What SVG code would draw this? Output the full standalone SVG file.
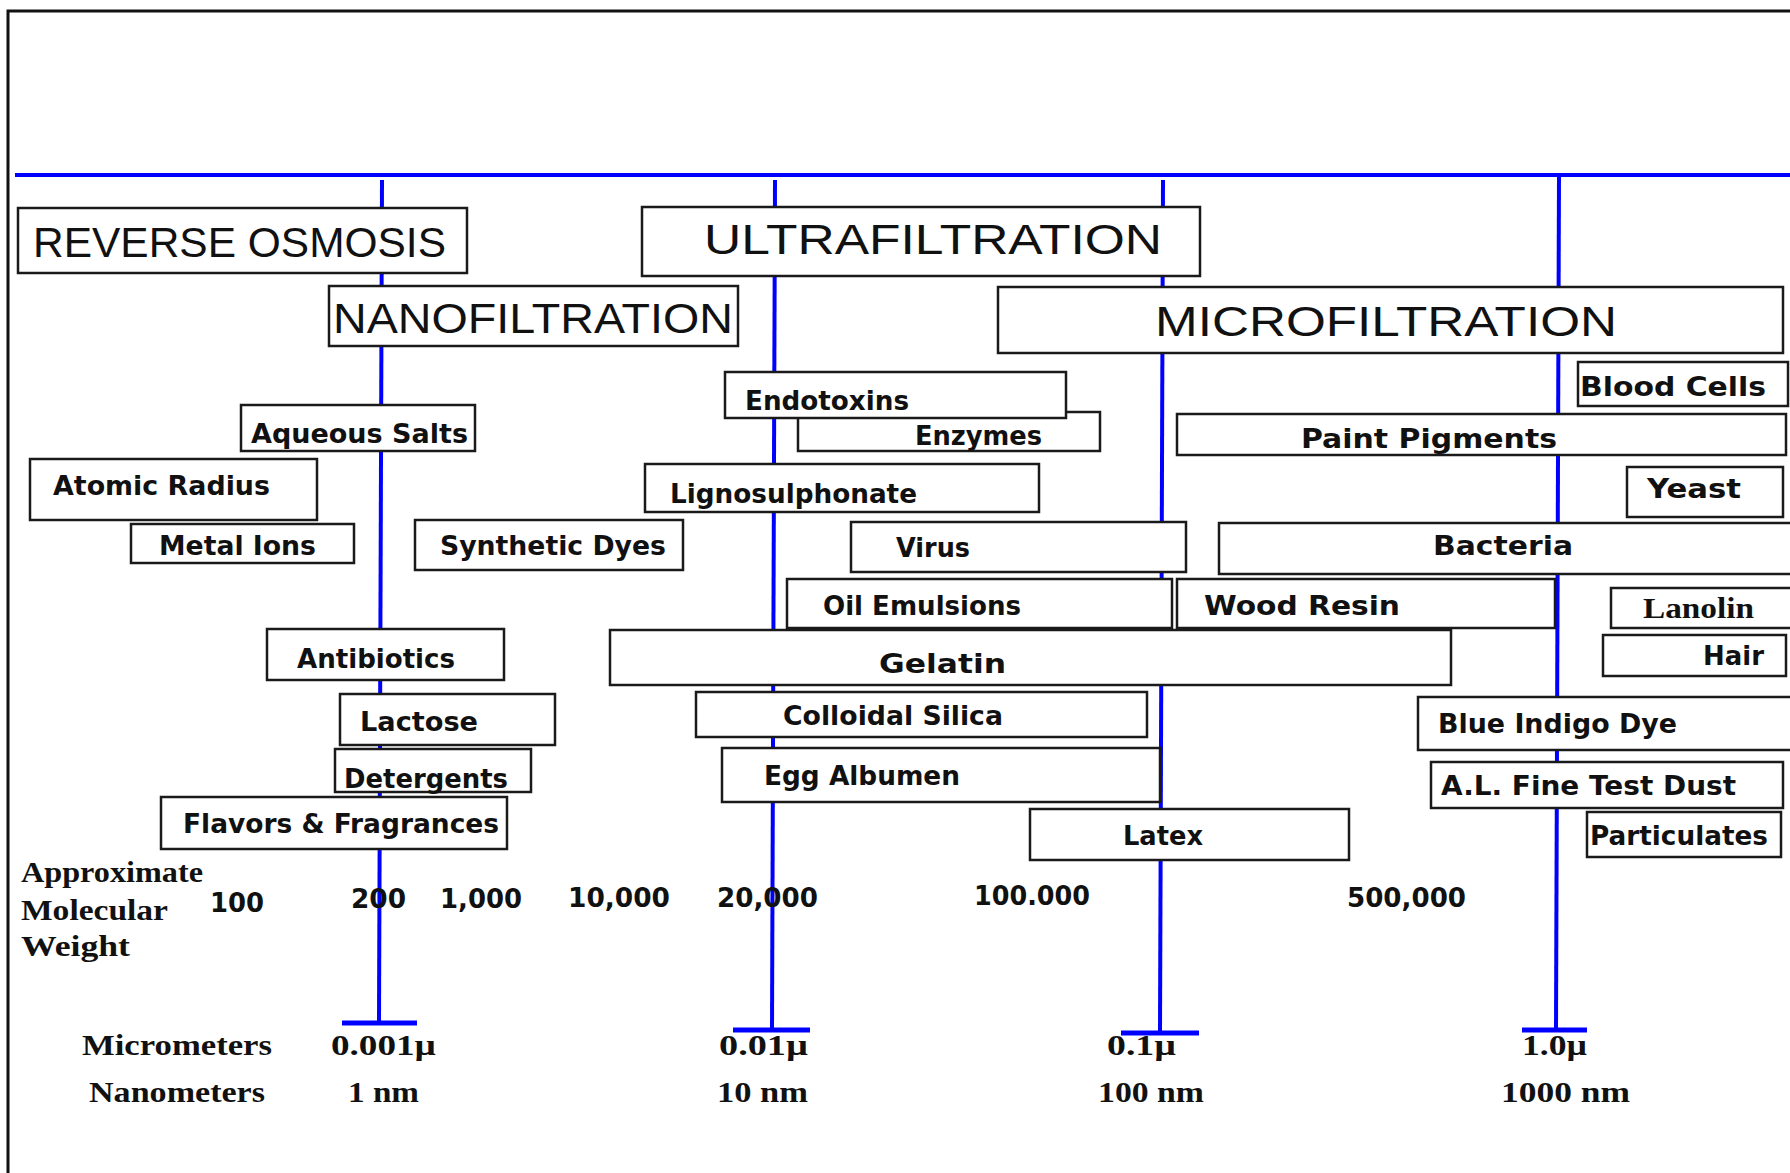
<svg xmlns="http://www.w3.org/2000/svg" width="1790" height="1173" viewBox="0 0 1790 1173">
<style>
.box{fill:#fff;stroke:#1a1a1a;stroke-width:2.5}
.title{font-family:"Liberation Sans",Arial,sans-serif;font-size:42px;fill:#111}
.lbl{font-family:"DejaVu Sans","Liberation Sans",sans-serif;font-weight:bold;font-size:26px;fill:#111}
.serif{font-family:"Liberation Serif","Times New Roman",serif;font-weight:bold;font-size:30px;fill:#111}
.axis{stroke:#0000ff;stroke-width:4;fill:none}
.cap{stroke:#0000ff;stroke-width:5;fill:none}
</style>
<rect x="0" y="0" width="1790" height="1173" fill="#fff"/>
<g id="frame">
<path d="M8 1173 V11 H1790" fill="none" stroke="#111" stroke-width="3"/>
</g>
<g id="connectors">
<line class="axis" x1="15" y1="175" x2="1790" y2="175" stroke-width="3"/>
<line class="axis" x1="382" y1="180" x2="379" y2="1023"/>
<line class="axis" x1="775" y1="180" x2="772" y2="1030"/>
<line class="axis" x1="1163" y1="180" x2="1160" y2="1033"/>
<line class="axis" x1="1559" y1="175" x2="1556" y2="1030"/>
<line class="cap" x1="342" y1="1023" x2="417" y2="1023"/>
<line class="cap" x1="733" y1="1030" x2="810" y2="1030"/>
<line class="cap" x1="1121" y1="1033" x2="1199" y2="1033"/>
<line class="cap" x1="1522" y1="1030" x2="1587" y2="1030"/>
</g>
<g id="reverse-osmosis"><rect class="box" x="18" y="208" width="449" height="65"/><text class="title" x="33" y="257" textLength="413" lengthAdjust="spacingAndGlyphs">REVERSE OSMOSIS</text></g>
<g id="nanofiltration"><rect class="box" x="329" y="286" width="409" height="60"/><text class="title" x="333" y="333" textLength="400" lengthAdjust="spacingAndGlyphs">NANOFILTRATION</text></g>
<g id="ultrafiltration"><rect class="box" x="642" y="207" width="558" height="69"/><text class="title" x="704" y="254" textLength="458" lengthAdjust="spacingAndGlyphs">ULTRAFILTRATION</text></g>
<g id="microfiltration"><rect class="box" x="998" y="287" width="785" height="66"/><text class="title" x="1155" y="336" textLength="462" lengthAdjust="spacingAndGlyphs">MICROFILTRATION</text></g>
<g id="aqueous-salts"><rect class="box" x="241" y="405" width="234" height="46"/><text class="lbl" x="251" y="443" textLength="217" lengthAdjust="spacingAndGlyphs">Aqueous Salts</text></g>
<g id="atomic-radius"><rect class="box" x="30" y="459" width="287" height="61"/><text class="lbl" x="53" y="495" textLength="217" lengthAdjust="spacingAndGlyphs">Atomic Radius</text></g>
<g id="metal-ions"><rect class="box" x="131" y="524" width="223" height="39"/><text class="lbl" x="159" y="555" textLength="157" lengthAdjust="spacingAndGlyphs">Metal Ions</text></g>
<g id="synthetic-dyes"><rect class="box" x="415" y="520" width="268" height="50"/><text class="lbl" x="440" y="555" textLength="226" lengthAdjust="spacingAndGlyphs">Synthetic Dyes</text></g>
<g id="enzymes"><rect class="box" x="798" y="412" width="302" height="39"/><text class="lbl" x="915" y="445" textLength="127" lengthAdjust="spacingAndGlyphs">Enzymes</text></g>
<g id="endotoxins"><rect class="box" x="725" y="372" width="341" height="46"/><text class="lbl" x="745" y="410" textLength="164" lengthAdjust="spacingAndGlyphs">Endotoxins</text></g>
<g id="lignosulphonate"><rect class="box" x="645" y="464" width="394" height="48"/><text class="lbl" x="670" y="503" textLength="247" lengthAdjust="spacingAndGlyphs">Lignosulphonate</text></g>
<g id="virus"><rect class="box" x="851" y="522" width="335" height="50"/><text class="lbl" x="896" y="557" textLength="74" lengthAdjust="spacingAndGlyphs">Virus</text></g>
<g id="blood-cells"><rect class="box" x="1578" y="362" width="210" height="44"/><text class="lbl" x="1580" y="396" textLength="186" lengthAdjust="spacingAndGlyphs">Blood Cells</text></g>
<g id="paint-pigments"><rect class="box" x="1177" y="414" width="609" height="41"/><text class="lbl" x="1301" y="448" textLength="256" lengthAdjust="spacingAndGlyphs">Paint Pigments</text></g>
<g id="yeast"><rect class="box" x="1627" y="467" width="156" height="50"/><text class="lbl" x="1647" y="498" textLength="94" lengthAdjust="spacingAndGlyphs">Yeast</text></g>
<g id="bacteria"><rect class="box" x="1219" y="523" width="580" height="51"/><text class="lbl" x="1433" y="555" textLength="140" lengthAdjust="spacingAndGlyphs">Bacteria</text></g>
<g id="oil-emulsions"><rect class="box" x="787" y="579" width="385" height="49"/><text class="lbl" x="823" y="615" textLength="198" lengthAdjust="spacingAndGlyphs">Oil Emulsions</text></g>
<g id="wood-resin"><rect class="box" x="1177" y="579" width="378" height="49"/><text class="lbl" x="1204" y="615" textLength="196" lengthAdjust="spacingAndGlyphs">Wood Resin</text></g>
<g id="gelatin"><rect class="box" x="610" y="630" width="841" height="55"/><text class="lbl" x="879" y="673" font-size="32" textLength="127" lengthAdjust="spacingAndGlyphs">Gelatin</text></g>
<g id="lanolin"><rect class="box" x="1611" y="588" width="184" height="40"/><text class="serif" x="1643" y="618" textLength="111" lengthAdjust="spacingAndGlyphs">Lanolin</text></g>
<g id="hair"><rect class="box" x="1603" y="635" width="183" height="41"/><text class="lbl" x="1703" y="665" textLength="61" lengthAdjust="spacingAndGlyphs">Hair</text></g>
<g id="antibiotics"><rect class="box" x="267" y="629" width="237" height="51"/><text class="lbl" x="297" y="668" textLength="158" lengthAdjust="spacingAndGlyphs">Antibiotics</text></g>
<g id="lactose"><rect class="box" x="340" y="694" width="215" height="51"/><text class="lbl" x="360" y="731" textLength="118" lengthAdjust="spacingAndGlyphs">Lactose</text></g>
<g id="detergents"><rect class="box" x="335" y="749" width="196" height="43"/><text class="lbl" x="344" y="788" textLength="164" lengthAdjust="spacingAndGlyphs">Detergents</text></g>
<g id="flavors-fragrances"><rect class="box" x="161" y="797" width="346" height="52"/><text class="lbl" x="183" y="833" textLength="316" lengthAdjust="spacingAndGlyphs">Flavors &amp; Fragrances</text></g>
<g id="colloidal-silica"><rect class="box" x="696" y="692" width="451" height="45"/><text class="lbl" x="783" y="725" textLength="220" lengthAdjust="spacingAndGlyphs">Colloidal Silica</text></g>
<g id="egg-albumen"><rect class="box" x="722" y="748" width="438" height="54"/><text class="lbl" x="764" y="785" textLength="196" lengthAdjust="spacingAndGlyphs">Egg Albumen</text></g>
<g id="latex"><rect class="box" x="1030" y="809" width="319" height="51"/><text class="lbl" x="1123" y="845" textLength="80" lengthAdjust="spacingAndGlyphs">Latex</text></g>
<g id="blue-indigo-dye"><rect class="box" x="1418" y="697" width="377" height="53"/><text class="lbl" x="1438" y="733" textLength="239" lengthAdjust="spacingAndGlyphs">Blue Indigo Dye</text></g>
<g id="fine-test-dust"><rect class="box" x="1431" y="762" width="352" height="46"/><text class="lbl" x="1441" y="795" textLength="295" lengthAdjust="spacingAndGlyphs">A.L. Fine Test Dust</text></g>
<g id="particulates"><rect class="box" x="1587" y="812" width="194" height="45"/><text class="lbl" x="1590" y="845" textLength="178" lengthAdjust="spacingAndGlyphs">Particulates</text></g>
<g id="mw-scale">
<text class="serif" x="21" y="882" textLength="182" lengthAdjust="spacingAndGlyphs">Approximate</text>
<text class="serif" x="21" y="920" textLength="147" lengthAdjust="spacingAndGlyphs">Molecular</text>
<text class="serif" x="21" y="956" textLength="109" lengthAdjust="spacingAndGlyphs">Weight</text>
<text class="lbl" x="210" y="912" textLength="54" lengthAdjust="spacingAndGlyphs">100</text>
<text class="lbl" x="351" y="908" textLength="55" lengthAdjust="spacingAndGlyphs">200</text>
<text class="lbl" x="440" y="908" textLength="82" lengthAdjust="spacingAndGlyphs">1,000</text>
<text class="lbl" x="568" y="907" textLength="102" lengthAdjust="spacingAndGlyphs">10,000</text>
<text class="lbl" x="717" y="907" textLength="101" lengthAdjust="spacingAndGlyphs">20,000</text>
<text class="lbl" x="974" y="905" textLength="116" lengthAdjust="spacingAndGlyphs">100.000</text>
<text class="lbl" x="1347" y="907" textLength="119" lengthAdjust="spacingAndGlyphs">500,000</text>
</g>
<g id="size-scale">
<text class="serif" x="82" y="1055" textLength="190" lengthAdjust="spacingAndGlyphs">Micrometers</text>
<text class="serif" x="331" y="1055" textLength="105" lengthAdjust="spacingAndGlyphs">0.001µ</text>
<text class="serif" x="719" y="1055" textLength="89" lengthAdjust="spacingAndGlyphs">0.01µ</text>
<text class="serif" x="1107" y="1055" textLength="69" lengthAdjust="spacingAndGlyphs">0.1µ</text>
<text class="serif" x="1522" y="1055" textLength="65" lengthAdjust="spacingAndGlyphs">1.0µ</text>
<text class="serif" x="89" y="1102" textLength="176" lengthAdjust="spacingAndGlyphs">Nanometers</text>
<text class="serif" x="348" y="1102" textLength="71" lengthAdjust="spacingAndGlyphs">1 nm</text>
<text class="serif" x="717" y="1102" textLength="91" lengthAdjust="spacingAndGlyphs">10 nm</text>
<text class="serif" x="1098" y="1102" textLength="106" lengthAdjust="spacingAndGlyphs">100 nm</text>
<text class="serif" x="1501" y="1102" textLength="129" lengthAdjust="spacingAndGlyphs">1000 nm</text>
</g>
</svg>
